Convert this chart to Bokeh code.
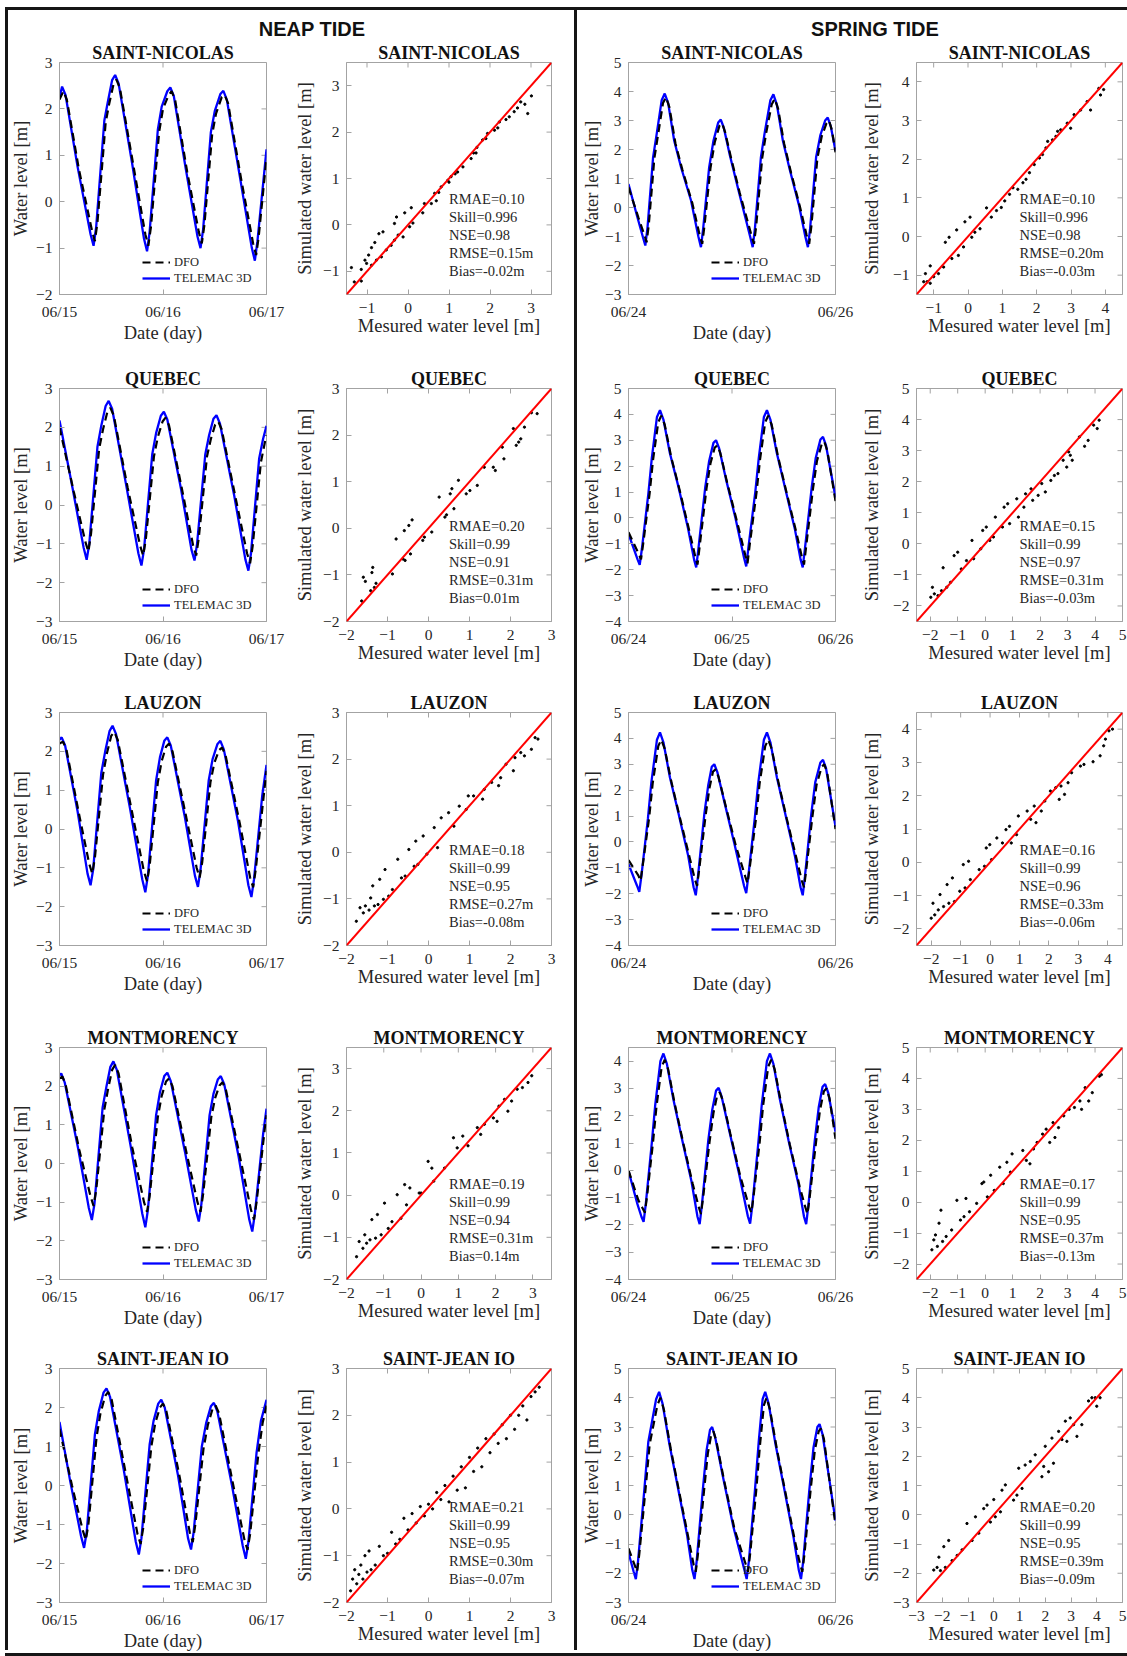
from bokeh.plotting import figure
from bokeh.models import (Range1d, FixedTicker, Legend, LegendItem,
                          Label, Slope, Spacer, Div)
from bokeh.layouts import row, column
from bokeh.embed import file_html
from bokeh.resources import INLINE

# ---------------------------------------------------------------- data
STATIONS = ["SAINT-NICOLAS", "QUEBEC", "LAUZON", "MONTMORENCY", "SAINT-JEAN IO"]
PANEL_HEADERS = ["NEAP TIDE", "SPRING TIDE"]
NEAP_DATES = ["06/15", "06/16", "06/17"]
SPRING_DATES = ["06/24", "06/25", "06/26"]
SPRING_SHOWN_DATES = [["06/24", "06/26"], ["06/24", "06/25", "06/26"],
                      ["06/24", "06/26"], ["06/24", "06/25", "06/26"],
                      ["06/24", "06/26"]]
LEGEND_LABELS = ["DFO", "TELEMAC 3D"]
TS_XLABEL = "Date (day)"
TS_YLABEL = "Water level [m]"
SC_XLABEL = "Mesured water level [m]"
SC_YLABEL = "Simulated water level [m]"

NEAP_TS_YLIM = [(-2, 3), (-3, 3), (-3, 3), (-3, 3), (-3, 3)]
SPRING_TS_YLIM = [(-3, 5), (-4, 5), (-4, 5), (-4, 4.5), (-3, 5)]
NEAP_SC_LIM = [(-1.5, 3.5), (-2, 3), (-2, 3), (-2, 3.5), (-2, 3)]
SPRING_SC_LIM = [(-1.5, 4.5), (-2.5, 5), (-2.5, 4.5), (-2.5, 5), (-3, 5)]

NEAP_STATS = [
    ["RMAE=0.10", "Skill=0.996", "NSE=0.98", "RMSE=0.15m", "Bias=-0.02m"],
    ["RMAE=0.20", "Skill=0.99", "NSE=0.91", "RMSE=0.31m", "Bias=0.01m"],
    ["RMAE=0.18", "Skill=0.99", "NSE=0.95", "RMSE=0.27m", "Bias=-0.08m"],
    ["RMAE=0.19", "Skill=0.99", "NSE=0.94", "RMSE=0.31m", "Bias=0.14m"],
    ["RMAE=0.21", "Skill=0.99", "NSE=0.95", "RMSE=0.30m", "Bias=-0.07m"],
]
SPRING_STATS = [
    ["RMAE=0.10", "Skill=0.996", "NSE=0.98", "RMSE=0.20m", "Bias=-0.03m"],
    ["RMAE=0.15", "Skill=0.99", "NSE=0.97", "RMSE=0.31m", "Bias=-0.03m"],
    ["RMAE=0.16", "Skill=0.99", "NSE=0.96", "RMSE=0.33m", "Bias=-0.06m"],
    ["RMAE=0.17", "Skill=0.99", "NSE=0.95", "RMSE=0.37m", "Bias=-0.13m"],
    ["RMAE=0.20", "Skill=0.99", "NSE=0.95", "RMSE=0.39m", "Bias=-0.09m"],
]

# time series: (hours since first date, water level m)
NEAP_SN_T3D = [(0,2.25),(0.6,2.48),(1.4,2.3),(4.2,0.75),(7.2,-0.7),(7.9,-0.95),(8.5,-0.55),(10.4,1.75),(11.2,2.15),(12.2,2.62),(12.9,2.73),(13.7,2.55),(16.8,0.85),(19.6,-0.8),(20.3,-1.07),(20.9,-0.65),(22.8,1.55),(23.7,2.05),(25.0,2.38),(25.7,2.46),(26.5,2.28),(29.3,0.7),(32.0,-0.75),(32.7,-1.0),(33.3,-0.6),(35.1,1.5),(36.0,1.95),(37.3,2.32),(38.0,2.39),(38.8,2.2),(41.8,0.55),(44.6,-1.0),(45.3,-1.27),(45.9,-0.85),(48,1.13)]
NEAP_SN_DFO = [(0,2.2),(0.9,2.38),(1.7,2.2),(4.5,0.7),(7.6,-0.65),(8.2,-0.85),(8.8,-0.45),(10.7,1.7),(11.5,2.1),(12.5,2.52),(13.2,2.63),(14.0,2.45),(17.1,0.8),(19.9,-0.7),(20.6,-0.95),(21.2,-0.55),(23.1,1.5),(24.0,2.0),(25.3,2.3),(26.0,2.38),(26.8,2.2),(29.6,0.65),(32.3,-0.65),(33.0,-0.9),(33.6,-0.5),(35.4,1.45),(36.3,1.9),(37.6,2.25),(38.3,2.3),(39.1,2.12),(42.1,0.5),(44.9,-0.9),(45.6,-1.15),(46.2,-0.75),(48,0.95)]
NEAP_QC_T3D = [(0,2.18),(3.0,0.45),(5.6,-1.1),(6.3,-1.41),(6.9,-1.0),(8.8,1.5),(9.7,2.05),(10.7,2.55),(11.4,2.68),(12.2,2.48),(15.4,0.55),(18.3,-1.25),(19.0,-1.56),(19.6,-1.15),(21.5,1.3),(22.4,1.85),(23.5,2.3),(24.2,2.4),(25.0,2.2),(28.2,0.4),(30.6,-1.15),(31.3,-1.43),(31.9,-1.0),(33.8,1.3),(34.7,1.8),(35.7,2.22),(36.4,2.31),(37.2,2.1),(40.5,0.25),(43.1,-1.4),(43.8,-1.69),(44.4,-1.25),(46.3,1.2),(47.2,1.7),(48,2.04)]
NEAP_QC_DFO = [(0,2.0),(3.3,0.35),(6.0,-0.95),(6.7,-1.2),(7.3,-0.75),(9.2,1.45),(10.1,1.95),(11.1,2.4),(11.8,2.5),(12.6,2.3),(15.8,0.45),(18.7,-1.05),(19.4,-1.3),(20.0,-0.9),(21.9,1.25),(22.8,1.75),(23.9,2.15),(24.6,2.25),(25.4,2.05),(28.6,0.3),(31.0,-1.05),(31.7,-1.3),(32.3,-0.85),(34.2,1.25),(35.1,1.7),(36.1,2.07),(36.8,2.15),(37.6,1.95),(40.9,0.15),(43.5,-1.25),(44.2,-1.5),(44.8,-1.05),(46.7,1.1),(47.6,1.6),(48,1.8)]
NEAP_LZ_T3D = [(0,2.3),(0.5,2.36),(1.3,2.15),(4.2,0.45),(6.5,-1.15),(7.2,-1.45),(7.8,-1.05),(9.7,1.45),(10.6,2.0),(11.6,2.52),(12.3,2.66),(13.1,2.45),(16.4,0.5),(19.2,-1.3),(19.9,-1.63),(20.5,-1.2),(22.4,1.25),(23.3,1.85),(24.3,2.27),(25.0,2.36),(25.8,2.15),(29.0,0.35),(31.4,-1.2),(32.1,-1.49),(32.7,-1.05),(34.6,1.25),(35.5,1.8),(36.6,2.18),(37.3,2.27),(38.1,2.05),(41.4,0.2),(43.8,-1.45),(44.5,-1.75),(45.1,-1.3),(47.0,0.85),(48,1.65)]
NEAP_LZ_DFO = [(0,2.2),(0.8,2.25),(1.6,2.05),(4.5,0.4),(6.9,-0.9),(7.6,-1.15),(8.2,-0.75),(10.1,1.4),(11.0,1.95),(12.0,2.4),(12.7,2.5),(13.5,2.3),(16.8,0.45),(19.6,-1.1),(20.3,-1.35),(20.9,-0.95),(22.8,1.2),(23.7,1.75),(24.7,2.12),(25.4,2.2),(26.2,2.0),(29.4,0.3),(31.8,-1.0),(32.5,-1.25),(33.1,-0.85),(35.0,1.2),(35.9,1.7),(37.0,2.03),(37.7,2.1),(38.5,1.9),(41.8,0.15),(44.2,-1.25),(44.9,-1.5),(45.5,-1.05),(47.4,0.9),(48,1.5)]
NEAP_MM_T3D = [(0,2.28),(0.4,2.33),(1.2,2.1),(4.3,0.4),(6.8,-1.15),(7.5,-1.46),(8.1,-1.05),(10.0,1.45),(10.9,2.0),(11.8,2.5),(12.5,2.64),(13.3,2.42),(16.5,0.45),(19.2,-1.3),(19.9,-1.65),(20.5,-1.2),(22.4,1.25),(23.3,1.85),(24.3,2.26),(25.0,2.35),(25.8,2.13),(29.1,0.3),(31.6,-1.2),(32.3,-1.5),(32.9,-1.05),(34.8,1.25),(35.7,1.8),(36.7,2.17),(37.4,2.26),(38.2,2.05),(41.5,0.2),(44.0,-1.45),(44.7,-1.76),(45.3,-1.3),(47.2,0.75),(48,1.42)]
NEAP_MM_DFO = [(0,2.2),(0.7,2.25),(1.5,2.0),(4.6,0.35),(7.2,-0.85),(7.9,-1.1),(8.5,-0.7),(10.4,1.4),(11.3,1.95),(12.2,2.42),(12.9,2.55),(13.7,2.33),(16.9,0.4),(19.6,-1.0),(20.3,-1.25),(20.9,-0.85),(22.8,1.2),(23.7,1.75),(24.7,2.12),(25.4,2.2),(26.2,2.0),(29.5,0.25),(32.0,-1.0),(32.7,-1.25),(33.3,-0.8),(35.2,1.2),(36.1,1.7),(37.1,2.02),(37.8,2.1),(38.6,1.9),(41.9,0.15),(44.4,-1.2),(45.1,-1.45),(45.7,-1.0),(47.6,0.9),(48,1.25)]
NEAP_SJ_T3D = [(0,1.63),(2.5,0.1),(5.0,-1.3),(5.7,-1.6),(6.3,-1.2),(8.2,1.3),(9.1,1.9),(10.2,2.38),(10.9,2.49),(11.7,2.28),(14.9,0.4),(17.7,-1.45),(18.4,-1.77),(19.0,-1.35),(20.9,1.05),(21.8,1.65),(22.9,2.1),(23.6,2.2),(24.4,2.0),(27.5,0.25),(29.8,-1.35),(30.5,-1.64),(31.1,-1.2),(33.0,1.0),(34.0,1.6),(35.1,2.03),(35.8,2.12),(36.6,1.9),(40.0,0.0),(42.5,-1.55),(43.2,-1.88),(43.8,-1.45),(45.7,0.85),(46.7,1.65),(48,2.2)]
NEAP_SJ_DFO = [(0,1.45),(2.9,0.0),(5.4,-1.15),(6.1,-1.4),(6.7,-1.0),(8.6,1.25),(9.5,1.85),(10.6,2.3),(11.3,2.4),(12.1,2.2),(15.3,0.35),(18.1,-1.25),(18.8,-1.5),(19.4,-1.1),(21.3,1.0),(22.2,1.6),(23.3,2.0),(24.0,2.1),(24.8,1.9),(27.9,0.2),(30.2,-1.2),(30.9,-1.45),(31.5,-1.0),(33.4,0.95),(34.4,1.55),(35.5,1.97),(36.2,2.05),(37.0,1.85),(40.4,-0.05),(42.9,-1.4),(43.6,-1.65),(44.2,-1.25),(46.1,0.8),(47.1,1.6),(48,2.05)]

SPRING_SN_T3D = [(0,0.81),(2.0,-0.3),(3.4,-1.05),(3.9,-1.31),(4.4,-0.7),(5.7,1.73),(6.6,2.6),(7.7,3.7),(8.4,3.93),(9.2,3.6),(10.6,2.3),(12.2,1.38),(14.5,0.24),(16.2,-1.0),(16.8,-1.37),(17.3,-0.75),(18.7,1.38),(19.7,2.3),(20.8,2.93),(21.4,3.03),(22.1,2.75),(23.5,1.8),(25.5,0.6),(28.2,-1.0),(28.8,-1.37),(29.3,-0.75),(30.7,1.73),(31.6,2.6),(32.9,3.7),(33.6,3.9),(34.4,3.55),(35.8,2.3),(37.4,1.3),(39.5,0.1),(41.0,-1.0),(41.6,-1.37),(42.1,-0.75),(43.5,1.73),(44.5,2.5),(45.6,3.0),(46.2,3.1),(46.9,2.8),(48,1.96)]
SPRING_SN_DFO = [(0,0.7),(2.3,-0.35),(3.7,-0.95),(4.2,-1.2),(4.7,-0.6),(6.0,1.7),(6.9,2.55),(8.0,3.6),(8.7,3.8),(9.5,3.45),(10.9,2.2),(12.5,1.3),(14.8,0.15),(16.5,-0.95),(17.1,-1.25),(17.6,-0.65),(19.0,1.35),(20.0,2.25),(21.1,2.82),(21.7,2.9),(22.4,2.6),(23.8,1.7),(25.8,0.5),(28.5,-0.95),(29.1,-1.25),(29.6,-0.65),(31.0,1.7),(31.9,2.55),(33.2,3.55),(33.9,3.75),(34.7,3.4),(36.1,2.2),(37.7,1.2),(39.8,0.0),(41.3,-0.95),(41.9,-1.25),(42.4,-0.65),(43.8,1.7),(44.8,2.45),(45.9,2.9),(46.5,3.0),(47.2,2.65),(48,1.9)]
SPRING_QC_T3D = [(0,-0.62),(2.1,-1.6),(2.6,-1.81),(3.1,-1.2),(4.6,0.93),(5.4,2.3),(6.6,3.9),(7.3,4.16),(8.1,3.8),(9.6,2.5),(11.6,1.19),(13.8,-0.4),(15.2,-1.6),(15.7,-1.91),(16.2,-1.2),(17.8,1.19),(18.7,2.2),(19.7,2.9),(20.3,3.0),(21.0,2.7),(22.6,1.5),(24.8,0.0),(26.8,-1.55),(27.3,-1.87),(27.8,-1.15),(29.4,1.0),(30.2,2.3),(31.4,3.9),(32.1,4.16),(32.9,3.8),(34.4,2.5),(36.4,1.1),(38.6,-0.45),(39.9,-1.6),(40.4,-1.91),(40.9,-1.2),(42.5,1.2),(43.4,2.3),(44.5,3.03),(45.1,3.13),(45.8,2.8),(48,0.8)]
SPRING_QC_DFO = [(0,-0.55),(2.4,-1.4),(2.9,-1.6),(3.4,-1.0),(4.9,0.95),(5.7,2.25),(6.9,3.7),(7.6,3.95),(8.4,3.6),(9.9,2.35),(11.9,1.05),(14.1,-0.5),(15.5,-1.5),(16.0,-1.8),(16.5,-1.1),(18.1,1.15),(19.0,2.1),(20.0,2.72),(20.6,2.8),(21.3,2.5),(22.9,1.35),(25.1,-0.1),(27.1,-1.45),(27.6,-1.75),(28.1,-1.05),(29.7,1.0),(30.5,2.25),(31.7,3.7),(32.4,3.95),(33.2,3.6),(34.7,2.35),(36.7,0.95),(38.9,-0.55),(40.2,-1.5),(40.7,-1.8),(41.2,-1.1),(42.8,1.15),(43.7,2.2),(44.8,2.85),(45.4,2.95),(46.1,2.6),(48,0.65)]
SPRING_LZ_T3D = [(0,-0.86),(2.0,-1.7),(2.5,-1.93),(3.0,-1.3),(4.5,0.9),(5.3,2.3),(6.6,3.95),(7.3,4.23),(8.1,3.85),(9.6,2.5),(11.6,1.1),(13.8,-0.5),(15.1,-1.75),(15.6,-2.06),(16.1,-1.35),(17.6,1.1),(18.5,2.2),(19.3,2.9),(19.9,3.0),(20.6,2.7),(22.3,1.5),(24.6,-0.1),(26.8,-1.7),(27.3,-1.98),(27.8,-1.3),(29.3,0.95),(30.1,2.3),(31.4,3.95),(32.1,4.23),(32.9,3.85),(34.4,2.5),(36.4,1.05),(38.6,-0.55),(39.9,-1.75),(40.4,-2.06),(40.9,-1.35),(42.4,1.1),(43.3,2.3),(44.5,3.07),(45.1,3.17),(45.8,2.85),(48,0.59)]
SPRING_LZ_DFO = [(0,-0.7),(2.3,-1.3),(2.8,-1.5),(3.3,-0.9),(4.8,0.95),(5.6,2.25),(6.9,3.7),(7.6,3.95),(8.4,3.6),(9.9,2.35),(11.9,0.95),(14.1,-0.55),(15.4,-1.45),(15.9,-1.7),(16.4,-1.05),(17.9,1.05),(18.8,2.1),(19.6,2.72),(20.2,2.8),(20.9,2.5),(22.6,1.35),(24.9,-0.15),(27.1,-1.35),(27.6,-1.6),(28.1,-1.0),(29.6,0.95),(30.4,2.25),(31.7,3.7),(32.4,3.95),(33.2,3.6),(34.7,2.35),(36.7,0.9),(38.9,-0.6),(40.2,-1.5),(40.7,-1.75),(41.2,-1.1),(42.7,1.05),(43.6,2.2),(44.8,2.9),(45.4,3.0),(46.1,2.65),(48,0.5)]
SPRING_MM_T3D = [(0,-0.02),(2.0,-1.2),(3.0,-1.7),(3.5,-1.89),(4.0,-1.25),(5.4,1.0),(6.2,2.4),(7.4,4.0),(8.1,4.28),(8.9,3.9),(10.4,2.6),(12.4,1.15),(14.6,-0.4),(16.0,-1.7),(16.5,-1.97),(17.0,-1.3),(18.5,1.1),(19.4,2.2),(20.3,2.92),(20.9,3.02),(21.6,2.7),(23.3,1.5),(25.6,-0.1),(27.7,-1.7),(28.2,-1.95),(28.7,-1.3),(30.1,1.0),(30.9,2.4),(32.1,4.0),(32.8,4.28),(33.6,3.9),(35.1,2.6),(37.1,1.1),(39.4,-0.5),(40.7,-1.7),(41.2,-1.97),(41.7,-1.3),(43.2,1.1),(44.1,2.3),(45.0,3.06),(45.6,3.16),(46.3,2.85),(48,1.41)]
SPRING_MM_DFO = [(0,0.0),(2.3,-1.1),(3.3,-1.4),(3.8,-1.55),(4.3,-0.95),(5.7,1.05),(6.5,2.35),(7.7,3.8),(8.4,4.05),(9.2,3.7),(10.7,2.45),(12.7,1.0),(14.9,-0.5),(16.3,-1.35),(16.8,-1.6),(17.3,-1.0),(18.8,1.05),(19.7,2.1),(20.6,2.77),(21.2,2.85),(21.9,2.55),(23.6,1.35),(25.9,-0.2),(28.0,-1.35),(28.5,-1.55),(29.0,-0.95),(30.4,1.0),(31.2,2.35),(32.4,3.8),(33.1,4.05),(33.9,3.7),(35.4,2.45),(37.4,0.95),(39.7,-0.6),(41.0,-1.35),(41.5,-1.6),(42.0,-1.0),(43.5,1.05),(44.4,2.2),(45.3,2.9),(45.9,3.0),(46.6,2.65),(48,1.15)]
SPRING_SJ_T3D = [(0,-1.3),(1.2,-1.95),(1.7,-2.2),(2.2,-1.6),(3.7,0.9),(4.6,2.5),(6.4,3.95),(7.1,4.2),(7.9,3.8),(9.5,2.4),(11.5,0.9),(13.6,-0.7),(14.8,-1.9),(15.3,-2.2),(15.8,-1.6),(17.2,0.8),(18.1,2.2),(18.9,2.9),(19.4,3.0),(20.1,2.65),(21.9,1.3),(24.3,-0.4),(26.9,-1.9),(27.4,-2.2),(27.9,-1.6),(29.3,0.8),(30.2,2.5),(31.1,3.95),(31.7,4.2),(32.5,3.8),(34.1,2.4),(36.1,0.9),(38.3,-0.8),(39.5,-1.9),(40.0,-2.2),(40.5,-1.6),(41.9,0.8),(42.9,2.3),(43.8,3.0),(44.3,3.1),(45.0,2.75),(48,-0.2)]
SPRING_SJ_DFO = [(0,-1.15),(1.5,-1.75),(2.0,-1.95),(2.5,-1.35),(4.0,0.95),(4.9,2.4),(6.7,3.75),(7.4,4.0),(8.2,3.6),(9.8,2.25),(11.8,0.75),(13.9,-0.8),(15.1,-1.7),(15.6,-1.95),(16.1,-1.35),(17.5,0.8),(18.4,2.1),(19.2,2.75),(19.7,2.85),(20.4,2.5),(22.2,1.15),(24.6,-0.5),(27.2,-1.7),(27.7,-1.95),(28.2,-1.35),(29.6,0.8),(30.5,2.4),(31.4,3.75),(32.0,4.0),(32.8,3.6),(34.4,2.25),(36.4,0.75),(38.6,-0.9),(39.8,-1.7),(40.3,-1.95),(40.8,-1.35),(42.2,0.8),(43.2,2.2),(44.1,2.85),(44.6,2.95),(45.3,2.6),(48,-0.35)]

# scatter: (measured, simulated)
NEAP_SN_SCAT = [(-1.38,-0.92),(-1.14,-0.96),(-1.31,-1.23),(-1.14,-1.21),(-1.05,-0.76),(-1.01,-0.83),(-0.96,-0.65),(-0.89,-0.49),(-0.81,-0.38),(-0.71,-0.19),(-0.61,-0.15),(-0.89,-0.87),(-0.77,-0.76),(-0.65,-0.69),(-0.53,-0.54),(-0.41,-0.44),(-0.33,-0.33),(-0.24,-0.22),(-0.33,0.03),(-0.28,0.17),(-0.08,0.26),(0.08,0.37),(-0.12,-0.26),(0.04,-0.04),(0.12,0.04),(0.36,0.26),(0.40,0.46),(0.57,0.46),(0.65,0.68),(0.75,0.70),(0.69,0.52),(0.81,0.82),(0.97,0.96),(1.05,1.04),(1.21,1.14),(1.34,1.25),(1.54,1.43),(1.66,1.55),(1.68,1.67),(1.82,1.83),(1.90,1.86),(1.94,1.97),(2.11,2.04),(2.19,2.09),(2.23,2.22),(2.39,2.27),(2.47,2.33),(2.59,2.44),(2.67,2.52),(2.75,2.65),(2.92,2.40),(3.01,2.78),(2.85,2.60),(1.00,0.92),(1.15,1.10),(1.60,1.55)]
NEAP_QC_SCAT = [(-1.63,-1.56),(-1.59,-1.05),(-1.54,-1.14),(-1.41,-1.34),(-1.38,-0.95),(-1.36,-0.84),(-1.32,-1.27),(-1.28,-1.18),(-0.88,-0.98),(-0.79,-0.23),(-0.62,-0.66),(-0.57,-0.69),(-0.59,-0.05),(-0.48,0.06),(-0.44,-0.55),(-0.40,0.18),(-0.14,-0.26),(-0.10,-0.19),(0.08,-0.08),(0.26,0.67),(0.40,0.24),(0.44,0.29),(0.53,0.74),(0.57,0.85),(0.62,0.42),(0.73,1.03),(0.92,0.74),(1.01,0.81),(1.19,0.92),(1.36,1.31),(1.58,1.31),(1.63,1.24),(1.80,1.74),(1.84,1.49),(2.07,2.14),(2.14,1.78),(2.20,1.85),(2.25,1.92),(2.34,2.17),(2.51,2.48),(2.65,2.46)]
NEAP_LZ_SCAT = [(-1.76,-1.48),(-1.67,-1.19),(-1.59,-1.30),(-1.54,-1.15),(-1.45,-1.24),(-1.41,-0.98),(-1.36,-0.72),(-1.32,-1.15),(-1.23,-1.12),(-1.19,-0.58),(-1.10,-1.01),(-1.06,-0.37),(-0.97,-0.94),(-0.88,-0.80),(-0.75,-0.15),(-0.66,-0.55),(-0.57,-0.51),(-0.48,0.06),(-0.35,-0.30),(-0.31,0.24),(-0.26,-0.26),(-0.13,0.35),(-0.04,-0.04),(0.14,0.53),(0.22,0.10),(0.31,0.74),(0.49,0.85),(0.62,0.56),(0.75,0.99),(0.92,0.92),(0.97,1.21),(1.10,1.21),(1.32,1.14),(1.36,1.35),(1.54,1.50),(1.71,1.43),(1.76,1.60),(1.89,1.89),(2.07,1.75),(2.11,2.03),(2.25,2.14),(2.34,2.07),(2.51,2.21),(2.60,2.46),(2.67,2.43)]
NEAP_MM_SCAT = [(-1.73,-1.46),(-1.66,-1.10),(-1.56,-1.26),(-1.51,-0.94),(-1.46,-1.14),(-1.37,-1.06),(-1.32,-0.58),(-1.22,-1.02),(-1.17,-0.46),(-1.07,-0.94),(-0.98,-0.19),(-0.88,-0.79),(-0.78,-0.63),(-0.64,0.01),(-0.54,-0.55),(-0.44,0.25),(-0.39,-0.23),(-0.30,0.17),(-0.05,0.05),(0.00,0.05),(0.19,0.80),(0.29,0.64),(0.34,0.33),(0.63,0.64),(0.87,1.36),(0.97,1.12),(1.12,1.40),(1.26,1.17),(1.51,1.60),(1.60,1.44),(1.70,1.68),(1.94,1.83),(2.04,1.75),(2.09,2.11),(2.24,2.27),(2.33,1.99),(2.43,2.23),(2.58,2.51),(2.72,2.55),(2.87,2.67),(2.97,2.83)]
NEAP_SJ_SCAT = [(-1.9,-1.75),(-1.85,-1.5),(-1.8,-1.3),(-1.75,-1.6),(-1.7,-1.4),(-1.65,-1.2),(-1.6,-1.5),(-1.55,-1.0),(-1.5,-1.35),(-1.45,-0.9),(-1.4,-1.3),(-1.3,-1.2),(-1.2,-0.8),(-1.1,-1.0),(-1.0,-0.95),(-0.9,-0.5),(-0.8,-0.75),(-0.7,-0.65),(-0.6,-0.2),(-0.5,-0.45),(-0.4,-0.1),(-0.3,-0.3),(-0.2,0.05),(-0.1,-0.15),(0.0,0.1),(0.1,0.0),(0.2,0.35),(0.3,0.2),(0.4,0.5),(0.5,0.15),(0.6,0.7),(0.7,0.4),(0.8,0.9),(0.9,0.45),(1.0,1.1),(1.1,0.8),(1.2,1.3),(1.3,0.9),(1.4,1.5),(1.5,1.2),(1.6,1.6),(1.7,1.4),(1.8,1.8),(1.9,1.5),(2.0,2.0),(2.1,1.7),(2.2,2.0),(2.3,2.2),(2.4,1.9),(2.5,2.4),(2.6,2.5),(2.7,2.6)]
SPRING_SN_SCAT = [(-1.29,-1.17),(-1.19,-1.17),(-1.24,-0.96),(-1.10,-0.76),(-1.10,-1.21),(-1.00,-1.04),(-0.86,-0.96),(-0.66,-0.15),(-0.55,-0.02),(-0.71,-0.79),(-0.47,-0.57),(-0.33,0.17),(-0.28,-0.49),(-0.13,-0.27),(-0.09,0.38),(0.06,0.50),(0.11,-0.02),(0.20,0.11),(0.35,0.20),(0.54,0.74),(0.68,0.50),(0.83,0.67),(0.97,0.75),(1.07,0.92),(1.21,1.09),(1.31,1.26),(1.45,1.22),(1.60,1.39),(1.69,1.48),(1.79,1.65),(1.93,1.86),(2.08,2.03),(2.17,2.12),(2.27,2.29),(2.32,2.46),(2.46,2.50),(2.56,2.59),(2.61,2.72),(2.70,2.76),(2.89,2.93),(2.99,2.80),(3.09,3.15),(3.28,3.27),(3.47,3.49),(3.57,3.27),(3.81,3.83),(3.86,3.66),(3.95,3.80)]
SPRING_QC_SCAT = [(-1.98,-1.72),(-1.92,-1.40),(-1.85,-1.61),(-1.72,-1.67),(-1.59,-1.51),(-1.53,-0.77),(-1.40,-1.40),(-1.26,-1.24),(-1.13,-0.38),(-1.00,-0.27),(-0.87,-0.81),(-0.68,-0.54),(-0.48,0.11),(-0.42,-0.48),(-0.16,-0.16),(-0.09,0.43),(0.04,0.54),(0.17,0.11),(0.30,0.22),(0.37,0.86),(0.63,0.54),(0.69,1.18),(0.82,1.29),(0.89,0.65),(1.15,1.45),(1.21,0.86),(1.41,1.18),(1.47,1.61),(1.67,1.77),(1.73,1.40),(1.93,1.56),(2.06,1.94),(2.19,1.67),(2.39,2.04),(2.52,2.20),(2.65,2.26),(2.84,2.69),(2.97,2.47),(3.04,2.96),(3.10,2.85),(3.17,2.69),(3.43,3.44),(3.62,3.14),(3.75,3.33),(3.95,3.82),(4.08,3.71),(4.15,3.98)]
SPRING_LZ_SCAT = [(-2.00,-1.68),(-1.94,-1.23),(-1.88,-1.58),(-1.76,-1.43),(-1.70,-0.97),(-1.58,-1.33),(-1.46,-0.67),(-1.40,-1.23),(-1.28,-0.47),(-1.21,-1.18),(-1.03,-0.87),(-0.91,-0.07),(-0.85,-0.77),(-0.73,0.03),(-0.67,-0.52),(-0.37,-0.22),(-0.19,-0.12),(-0.13,0.43),(-0.01,0.53),(0.05,0.08),(0.23,0.73),(0.42,0.58),(0.54,0.98),(0.66,1.08),(0.72,0.58),(0.90,0.83),(0.96,1.39),(1.26,1.54),(1.38,1.29),(1.50,1.69),(1.56,1.19),(1.74,1.54),(1.86,1.84),(2.05,2.14),(2.23,2.24),(2.35,1.89),(2.41,2.29),(2.53,2.04),(2.65,2.39),(2.77,2.69),(3.07,2.89),(3.19,2.94),(3.50,3.02),(3.74,3.20),(3.86,3.50),(3.92,3.70),(4.04,3.95),(4.16,4.00)]
SPRING_MM_SCAT = [(-1.94,-1.54),(-1.87,-1.22),(-1.81,-1.06),(-1.74,-1.43),(-1.68,-0.68),(-1.61,-0.26),(-1.55,-1.27),(-1.42,-1.11),(-1.22,-0.90),(-1.03,0.06),(-0.90,-0.58),(-0.77,-0.47),(-0.70,0.12),(-0.57,-0.31),(-0.31,-0.04),(-0.12,0.60),(-0.05,0.65),(0.08,0.17),(0.20,0.87),(0.33,0.38),(0.53,1.13),(0.66,0.60),(0.79,1.29),(0.98,1.56),(0.92,0.97),(1.37,1.67),(1.50,1.35),(1.63,1.24),(1.76,1.72),(1.89,1.93),(2.09,2.20),(2.22,2.36),(2.35,1.93),(2.47,2.57),(2.54,2.09),(2.67,2.41),(2.86,2.79),(3.06,3.00),(3.25,3.06),(3.45,3.27),(3.51,3.00),(3.64,3.70),(3.77,3.27),(3.90,3.54),(4.16,4.07),(4.23,4.12)]
SPRING_SJ_SCAT = [(-2.33,-1.89),(-2.20,-1.80),(-2.13,-1.45),(-2.07,-1.91),(-1.94,-1.09),(-1.88,-1.80),(-1.75,-0.88),(-1.62,-1.57),(-1.42,-1.39),(-1.23,-1.20),(-1.04,-0.30),(-0.84,-0.88),(-0.71,-0.07),(-0.58,-0.63),(-0.39,0.21),(-0.26,0.33),(-0.13,-0.25),(0.00,0.52),(0.06,-0.07),(0.26,0.10),(0.32,0.84),(0.45,1.02),(0.77,0.50),(0.90,0.67),(0.97,1.59),(1.22,1.70),(1.10,0.90),(1.42,1.82),(1.61,2.05),(1.87,1.30),(1.94,1.65),(2.00,2.34),(2.13,1.47),(2.32,1.76),(2.26,2.62),(2.52,2.85),(2.65,2.57),(2.78,3.20),(2.84,2.51),(2.97,3.31),(3.10,3.08),(3.23,2.68),(3.42,3.08),(3.68,3.89),(3.81,4.00),(3.94,4.00),(4.00,3.71),(4.13,4.00)]

NEAP_T3D = [NEAP_SN_T3D, NEAP_QC_T3D, NEAP_LZ_T3D, NEAP_MM_T3D, NEAP_SJ_T3D]
NEAP_DFO = [NEAP_SN_DFO, NEAP_QC_DFO, NEAP_LZ_DFO, NEAP_MM_DFO, NEAP_SJ_DFO]
SPRING_T3D = [SPRING_SN_T3D, SPRING_QC_T3D, SPRING_LZ_T3D, SPRING_MM_T3D, SPRING_SJ_T3D]
SPRING_DFO = [SPRING_SN_DFO, SPRING_QC_DFO, SPRING_LZ_DFO, SPRING_MM_DFO, SPRING_SJ_DFO]
NEAP_SCAT = [NEAP_SN_SCAT, NEAP_QC_SCAT, NEAP_LZ_SCAT, NEAP_MM_SCAT, NEAP_SJ_SCAT]
SPRING_SCAT = [SPRING_SN_SCAT, SPRING_QC_SCAT, SPRING_LZ_SCAT, SPRING_MM_SCAT, SPRING_SJ_SCAT]

# ---------------------------------------------------------------- style / layout
GRAY = "#a3a3a3"
TXT = "#262626"
SERIF = "Liberation Serif"
BLUE = "#0000ff"
RED = "#ff0000"
LINE = "#161616"
TICK_PX = 5

ROW_TOP = [24, 38, 36, 37, 38]
ROW_FH = [232, 233, 233, 232, 234]
ROW_BOT = [56, 55, 65, 51, 48]
# (left border, frame width, right border, y-axis-label standoff)
COL_A = (51, 207, 26, 2)
COL_B = (50, 205, 23, 5)
COL_C = (51, 207, 24, 0)
COL_D = (52, 206, 11, 8)


def int_ticks(lo, hi):
    import math
    return list(range(math.ceil(lo), math.floor(hi) + 1))


def make_fig(col, r, xr, yr, xticks, xover, xlabel, ylabel, title):
    l, fw, rt, ystand = col
    fh = ROW_FH[r]
    p = figure(frame_width=fw, frame_height=fh,
               x_range=Range1d(*xr), y_range=Range1d(*yr),
               min_border_left=l, min_border_right=rt,
               min_border_top=ROW_TOP[r], min_border_bottom=ROW_BOT[r],
               toolbar_location=None, output_backend="svg",
               outline_line_color=GRAY, outline_line_width=1)
    p.title.text = title
    p.title.align = "center"
    p.title.text_font = SERIF
    p.title.text_font_size = "18px"
    p.title.text_font_style = "bold"
    p.title.text_color = "#111111"
    p.title.standoff = 0
    p.xgrid.visible = False
    p.ygrid.visible = False
    xa = p.below[0]
    ya = p.left[0]
    yticks = int_ticks(*yr)
    xa.ticker = FixedTicker(ticks=xticks)
    if xover:
        xa.major_label_overrides = xover
    ya.ticker = FixedTicker(ticks=yticks)
    for ax in (xa, ya):
        ax.axis_line_color = GRAY
        ax.major_tick_line_color = GRAY
        ax.minor_tick_line_color = None
        ax.major_tick_in = TICK_PX
        ax.major_tick_out = 0
        ax.major_label_text_font = SERIF
        ax.major_label_text_font_size = "15.5px"
        ax.major_label_text_color = TXT
        ax.axis_label_text_font = SERIF
        ax.axis_label_text_font_size = "18.5px"
        ax.axis_label_text_font_style = "normal"
        ax.axis_label_text_color = TXT
    xa.axis_label = xlabel
    ya.axis_label = ylabel
    xa.major_label_standoff = 8
    xa.axis_label_standoff = 0
    ya.major_label_standoff = 7
    ya.axis_label_standoff = ystand
    # tick marks on the top and right edges of the box (inside)
    x0, x1 = xr
    y0, y1 = yr
    dy = TICK_PX * (y1 - y0) / fh
    dx = TICK_PX * (x1 - x0) / fw
    p.segment(x0=xticks, y0=[y1] * len(xticks), x1=xticks, y1=[y1 - dy] * len(xticks),
              line_color=GRAY, line_width=1)
    p.segment(x0=[x1] * len(yticks), y0=yticks, x1=[x1 - dx] * len(yticks), y1=yticks,
              line_color=GRAY, line_width=1)
    return p


def make_ts(col, r, dates, shown, ylim, t3d, dfo, title):
    xticks = [24 * dates.index(d) for d in shown]
    xover = {24 * dates.index(d): d for d in shown}
    p = make_fig(col, r, (0, 48), ylim, xticks, xover, TS_XLABEL, TS_YLABEL, title)
    rt = p.line([h for h, v in t3d], [v for h, v in t3d], line_color=BLUE, line_width=2.3)
    rd = p.line([h for h, v in dfo], [v for h, v in dfo], line_color="black",
                line_width=2.2, line_dash="8 5")
    leg = Legend(items=[LegendItem(label=LEGEND_LABELS[0], renderers=[rd]),
                        LegendItem(label=LEGEND_LABELS[1], renderers=[rt])],
                 location=(83, 8), orientation="vertical", padding=0, margin=0,
                 spacing=0, glyph_width=28, glyph_height=16, label_height=16,
                 label_standoff=4, label_text_font=SERIF,
                 label_text_font_size="12.5px", label_text_color=TXT,
                 border_line_color=None, background_fill_alpha=0)
    p.add_layout(leg)
    return p


def make_sc(col, r, lim, pts, stats, title):
    ticks = int_ticks(*lim)
    p = make_fig(col, r, lim, lim, ticks, None, SC_XLABEL, SC_YLABEL, title)
    p.add_layout(Slope(gradient=1, y_intercept=0, line_color=RED, line_width=2))
    p.scatter([a for a, b in pts], [b for a, b in pts], size=2.3, color="black",
              marker="circle")
    lo, hi = lim
    fh = ROW_FH[r]
    for i, s in enumerate(stats):
        p.add_layout(Label(x=lo + 0.5 * (hi - lo),
                           y=hi - (0.59 * fh + 18 * i) * (hi - lo) / fh,
                           text=s, text_align="left", text_baseline="middle",
                           text_font=SERIF, text_font_size="14.5px", text_color=TXT))
    return p


def header(text, width, shift):
    html = ('<div style="width:%dpx;margin-left:%dpx;text-align:center;'
            'font-family:\'Liberation Sans\',Arial,sans-serif;font-weight:bold;'
            'font-size:20px;line-height:20px;padding-top:9px;color:#111;">%s</div>'
            % (width - shift, shift, text))
    return Div(text=html, width=width, height=28, margin=0,
               styles={"overflow": "visible"})


left_rows = [header(PANEL_HEADERS[0], 562, 46)]
right_rows = [header(PANEL_HEADERS[1], 551, 45)]
for r in range(5):
    a = make_ts(COL_A, r, NEAP_DATES, NEAP_DATES, NEAP_TS_YLIM[r],
                NEAP_T3D[r], NEAP_DFO[r], STATIONS[r])
    b = make_sc(COL_B, r, NEAP_SC_LIM[r], NEAP_SCAT[r], NEAP_STATS[r], STATIONS[r])
    c = make_ts(COL_C, r, SPRING_DATES, SPRING_SHOWN_DATES[r], SPRING_TS_YLIM[r],
                SPRING_T3D[r], SPRING_DFO[r], STATIONS[r])
    d = make_sc(COL_D, r, SPRING_SC_LIM[r], SPRING_SCAT[r], SPRING_STATS[r], STATIONS[r])
    left_rows.append(row(a, b, spacing=0, margin=0))
    right_rows.append(row(c, d, spacing=0, margin=0))

H = 1640
leftcol = column(*left_rows, spacing=0, margin=0)
rightcol = column(*right_rows, spacing=0, margin=0)


def vline(h):
    return Spacer(width=3, height=h, margin=0, styles={"background-color": LINE})


def hline():
    return row(Spacer(width=5, height=3, margin=0),
               Spacer(width=1122, height=3, margin=0, styles={"background-color": LINE}),
               spacing=0, margin=0)


main = row(Spacer(width=5, height=H, margin=0), vline(H), leftcol, vline(H), rightcol,
           vline(H), spacing=0, margin=0)
root = column(Spacer(width=1127, height=7, margin=0), hline(), main, hline(),
              spacing=0, margin=0)

open("out.html", "w").write(file_html(root, INLINE))
